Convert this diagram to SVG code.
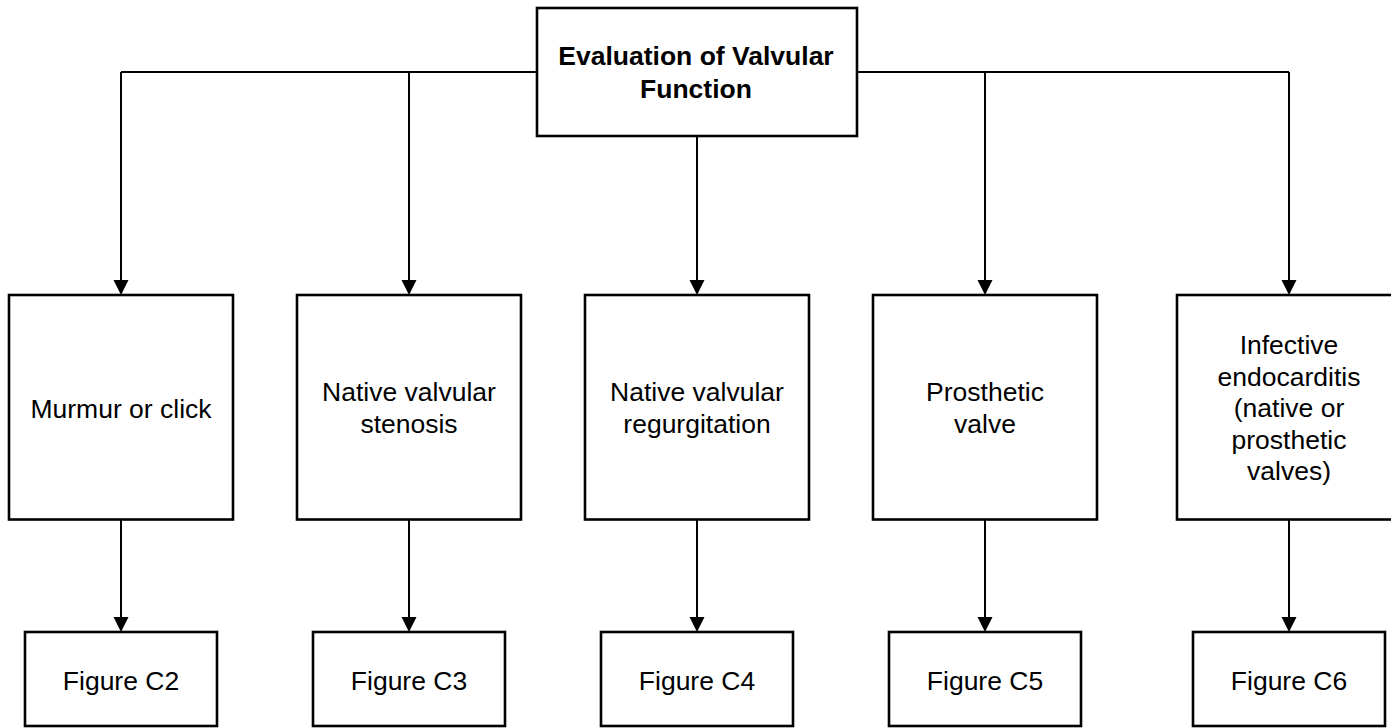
<svg xmlns="http://www.w3.org/2000/svg" width="1391" height="728" viewBox="0 0 1391 728">
  <style>
    .box { fill: #ffffff; stroke: #000000; stroke-width: 2.6; }
    .lbl { font-family: "Liberation Sans", Arial, sans-serif; font-size: 26.5px; fill: #000000; text-anchor: middle; }
    .title { font-weight: bold; }
    .wire { fill: none; stroke: #000000; stroke-width: 2; }
  </style>
  <rect width="1391" height="728" fill="#ffffff"/>

  <!-- connectors -->
  <g id="connectors">
    <path class="wire" d="M537,72 H121"/>
    <path class="wire" d="M857,72 H1289"/>
    <path d="M121,72 V281" class="wire"/>
    <path d="M409,72 V281" class="wire"/>
    <path d="M697,136 V281" class="wire"/>
    <path d="M985,72 V281" class="wire"/>
    <path d="M1289,72 V281" class="wire"/>
    <path d="M121,520 V618" class="wire"/>
    <path d="M409,520 V618" class="wire"/>
    <path d="M697,520 V618" class="wire"/>
    <path d="M985,520 V618" class="wire"/>
    <path d="M1289,520 V618" class="wire"/>
    <g fill="#000000">
      <path d="M113.5,280 L128.5,280 L121,295 Z"/>
      <path d="M401.5,280 L416.5,280 L409,295 Z"/>
      <path d="M689.5,280 L704.5,280 L697,295 Z"/>
      <path d="M977.5,280 L992.5,280 L985,295 Z"/>
      <path d="M1281.5,280 L1296.5,280 L1289,295 Z"/>
      <path d="M113.5,617 L128.5,617 L121,632 Z"/>
      <path d="M401.5,617 L416.5,617 L409,632 Z"/>
      <path d="M689.5,617 L704.5,617 L697,632 Z"/>
      <path d="M977.5,617 L992.5,617 L985,632 Z"/>
      <path d="M1281.5,617 L1296.5,617 L1289,632 Z"/>
    </g>
  </g>

  <!-- root -->
  <g id="evaluation">
    <rect class="box" x="537" y="8" width="320" height="128"/>
    <text class="lbl title" x="696" y="65">Evaluation of Valvular</text>
    <text class="lbl title" x="696" y="98">Function</text>
  </g>

  <!-- categories -->
  <g id="murmur">
    <rect class="box" x="9" y="295" width="224" height="224.5"/>
    <text class="lbl" x="121" y="418">Murmur or click</text>
  </g>
  <g id="stenosis">
    <rect class="box" x="297" y="295" width="224" height="224.5"/>
    <text class="lbl" x="409" y="401">Native valvular</text>
    <text class="lbl" x="409" y="433">stenosis</text>
  </g>
  <g id="regurgitation">
    <rect class="box" x="585" y="295" width="224" height="224.5"/>
    <text class="lbl" x="697" y="401">Native valvular</text>
    <text class="lbl" x="697" y="433">regurgitation</text>
  </g>
  <g id="prosthetic">
    <rect class="box" x="873" y="295" width="224" height="224.5"/>
    <text class="lbl" x="985" y="401">Prosthetic</text>
    <text class="lbl" x="985" y="433">valve</text>
  </g>
  <g id="endocarditis">
    <rect class="box" x="1177" y="295" width="224" height="224.5"/>
    <text class="lbl" x="1289" y="354">Infective</text>
    <text class="lbl" x="1289" y="386">endocarditis</text>
    <text class="lbl" x="1289" y="417">(native or</text>
    <text class="lbl" x="1289" y="449">prosthetic</text>
    <text class="lbl" x="1289" y="480">valves)</text>
  </g>

  <!-- figure references -->
  <g id="fig-c2">
    <rect class="box" x="25" y="632" width="192" height="94"/>
    <text class="lbl" x="121" y="690">Figure C2</text>
  </g>
  <g id="fig-c3">
    <rect class="box" x="313" y="632" width="192" height="94"/>
    <text class="lbl" x="409" y="690">Figure C3</text>
  </g>
  <g id="fig-c4">
    <rect class="box" x="601" y="632" width="192" height="94"/>
    <text class="lbl" x="697" y="690">Figure C4</text>
  </g>
  <g id="fig-c5">
    <rect class="box" x="889" y="632" width="192" height="94"/>
    <text class="lbl" x="985" y="690">Figure C5</text>
  </g>
  <g id="fig-c6">
    <rect class="box" x="1193" y="632" width="192" height="94"/>
    <text class="lbl" x="1289" y="690">Figure C6</text>
  </g>
</svg>
